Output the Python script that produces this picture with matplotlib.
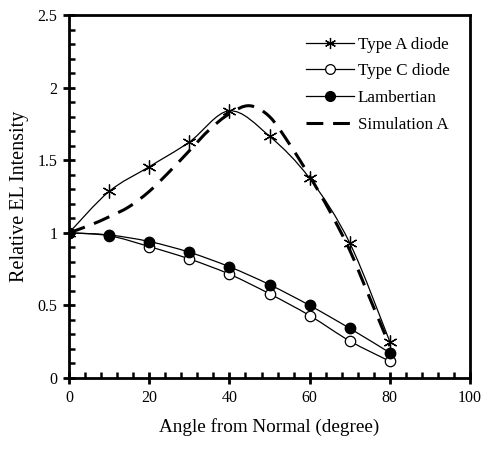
import numpy as np
import matplotlib
matplotlib.use('Agg')
import matplotlib.pyplot as plt
from matplotlib.path import Path
from matplotlib.patches import PathPatch
from matplotlib.lines import Line2D
from matplotlib.ticker import MultipleLocator

plt.rcParams['font.family'] = ['Liberation Serif', 'DejaVu Serif']

#angles of measurement
angle = [0, 10, 20, 30, 40, 50, 60, 70, 80]
type_a = [1.0, 1.285, 1.455, 1.625, 1.84, 1.665, 1.375, 0.93, 0.25]
type_c = [1.0, 0.98, 0.905, 0.82, 0.715, 0.58, 0.43, 0.255, 0.115]
lambert = [1.0, 0.985, 0.94, 0.866, 0.766, 0.643, 0.5, 0.342, 0.174]

#simulation curve read every 5 degrees
sim_angle = [0, 5, 10, 15, 20, 25, 30, 35, 40, 45, 50, 55, 60, 65, 70, 75, 80]
sim_a = [1.0, 1.05, 1.11, 1.18, 1.285, 1.42, 1.565, 1.71, 1.82, 1.875, 1.80, 1.61,
         1.39, 1.15, 0.88, 0.55, 0.22]

labels = ['Type A diode', 'Type C diode', 'Lambertian', 'Simulation A']


#smooth line like the spreadsheet "smoothed line" option (bezier through the points)
def smooth_path(x, y, t=1.0 / 6):
    x = np.asarray(x, float); y = np.asarray(y, float)
    n = len(x)
    verts = [(x[0], y[0])]
    codes = [Path.MOVETO]
    for i in range(n - 1):
        x0, y0 = (x[i - 1], y[i - 1]) if i > 0 else (x[i], y[i])
        x3, y3 = (x[i + 2], y[i + 2]) if i + 2 < n else (x[i + 1], y[i + 1])
        c1 = (x[i] + (x[i + 1] - x0) * t, y[i] + (y[i + 1] - y0) * t)
        c2 = (x[i + 1] - (x3 - x[i]) * t, y[i + 1] - (y3 - y[i]) * t)
        verts += [c1, c2, (x[i + 1], y[i + 1])]
        codes += [Path.CURVE4] * 3
    return Path(verts, codes)


fig = plt.figure(figsize=(4.82, 4.5), dpi=100)
ax = fig.add_axes([0.1432, 0.16, 0.832, 0.8067])

lw = 0.9
dash = (0, (5.5, 3.2))
ax.add_patch(PathPatch(smooth_path(angle, type_a), fill=False, lw=lw, ec='black'))
ax.add_patch(PathPatch(smooth_path(angle, type_c), fill=False, lw=lw, ec='black'))
ax.add_patch(PathPatch(smooth_path(angle, lambert), fill=False, lw=lw, ec='black'))
ax.add_patch(PathPatch(smooth_path(sim_angle, sim_a), fill=False, lw=2.2, ec='black', ls=dash))

ax.plot(angle, type_a, ls='none', marker=(6, 2, 0), ms=10, mec='black', mew=0.9)
ax.plot(angle, type_c, ls='none', marker='o', ms=7.5, mfc='white', mec='black', mew=0.9)
ax.plot(angle, lambert, ls='none', marker='o', ms=7.5, mfc='black', mec='black')

ax.set_xlim(0, 100)
ax.set_ylim(0, 2.5)
ax.xaxis.set_minor_locator(MultipleLocator(4))
ax.yaxis.set_minor_locator(MultipleLocator(0.1))
ax.set_xticks([0, 20, 40, 60, 80, 100], ['0', '20', '40', '60', '80', '100'])
ax.set_yticks([0, 0.5, 1, 1.5, 2, 2.5], ['0', '0.5', '1', '1.5', '2', '2.5'])
ax.tick_params(which='major', direction='inout', length=9, width=2, labelsize=11.5, pad=4)
ax.tick_params(which='minor', direction='in', length=4, width=1.8)
ax.tick_params(top=False, right=False, which='both')
for s in ax.spines.values():
    s.set_linewidth(2)

ax.set_xlabel('Angle from Normal (degree)', fontsize=13.8, labelpad=9)
ax.set_ylabel('Relative EL Intensity', fontsize=14.5, labelpad=6)

handles = [
    Line2D([], [], color='black', lw=lw, marker=(6, 2, 0), ms=8, mew=0.9),
    Line2D([], [], color='black', lw=lw, marker='o', ms=7, mfc='white', mew=0.9),
    Line2D([], [], color='black', lw=lw, marker='o', ms=7, mfc='black'),
    Line2D([], [], color='black', lw=2.2, ls=dash),
]
ax.legend(handles, labels, loc='upper left', bbox_to_anchor=(0.565, 0.968), frameon=False,
          fontsize=12.3, handlelength=2.8, handletextpad=0.25, labelspacing=0.62,
          borderaxespad=0.2)

fig.savefig('out.png', dpi=100)
